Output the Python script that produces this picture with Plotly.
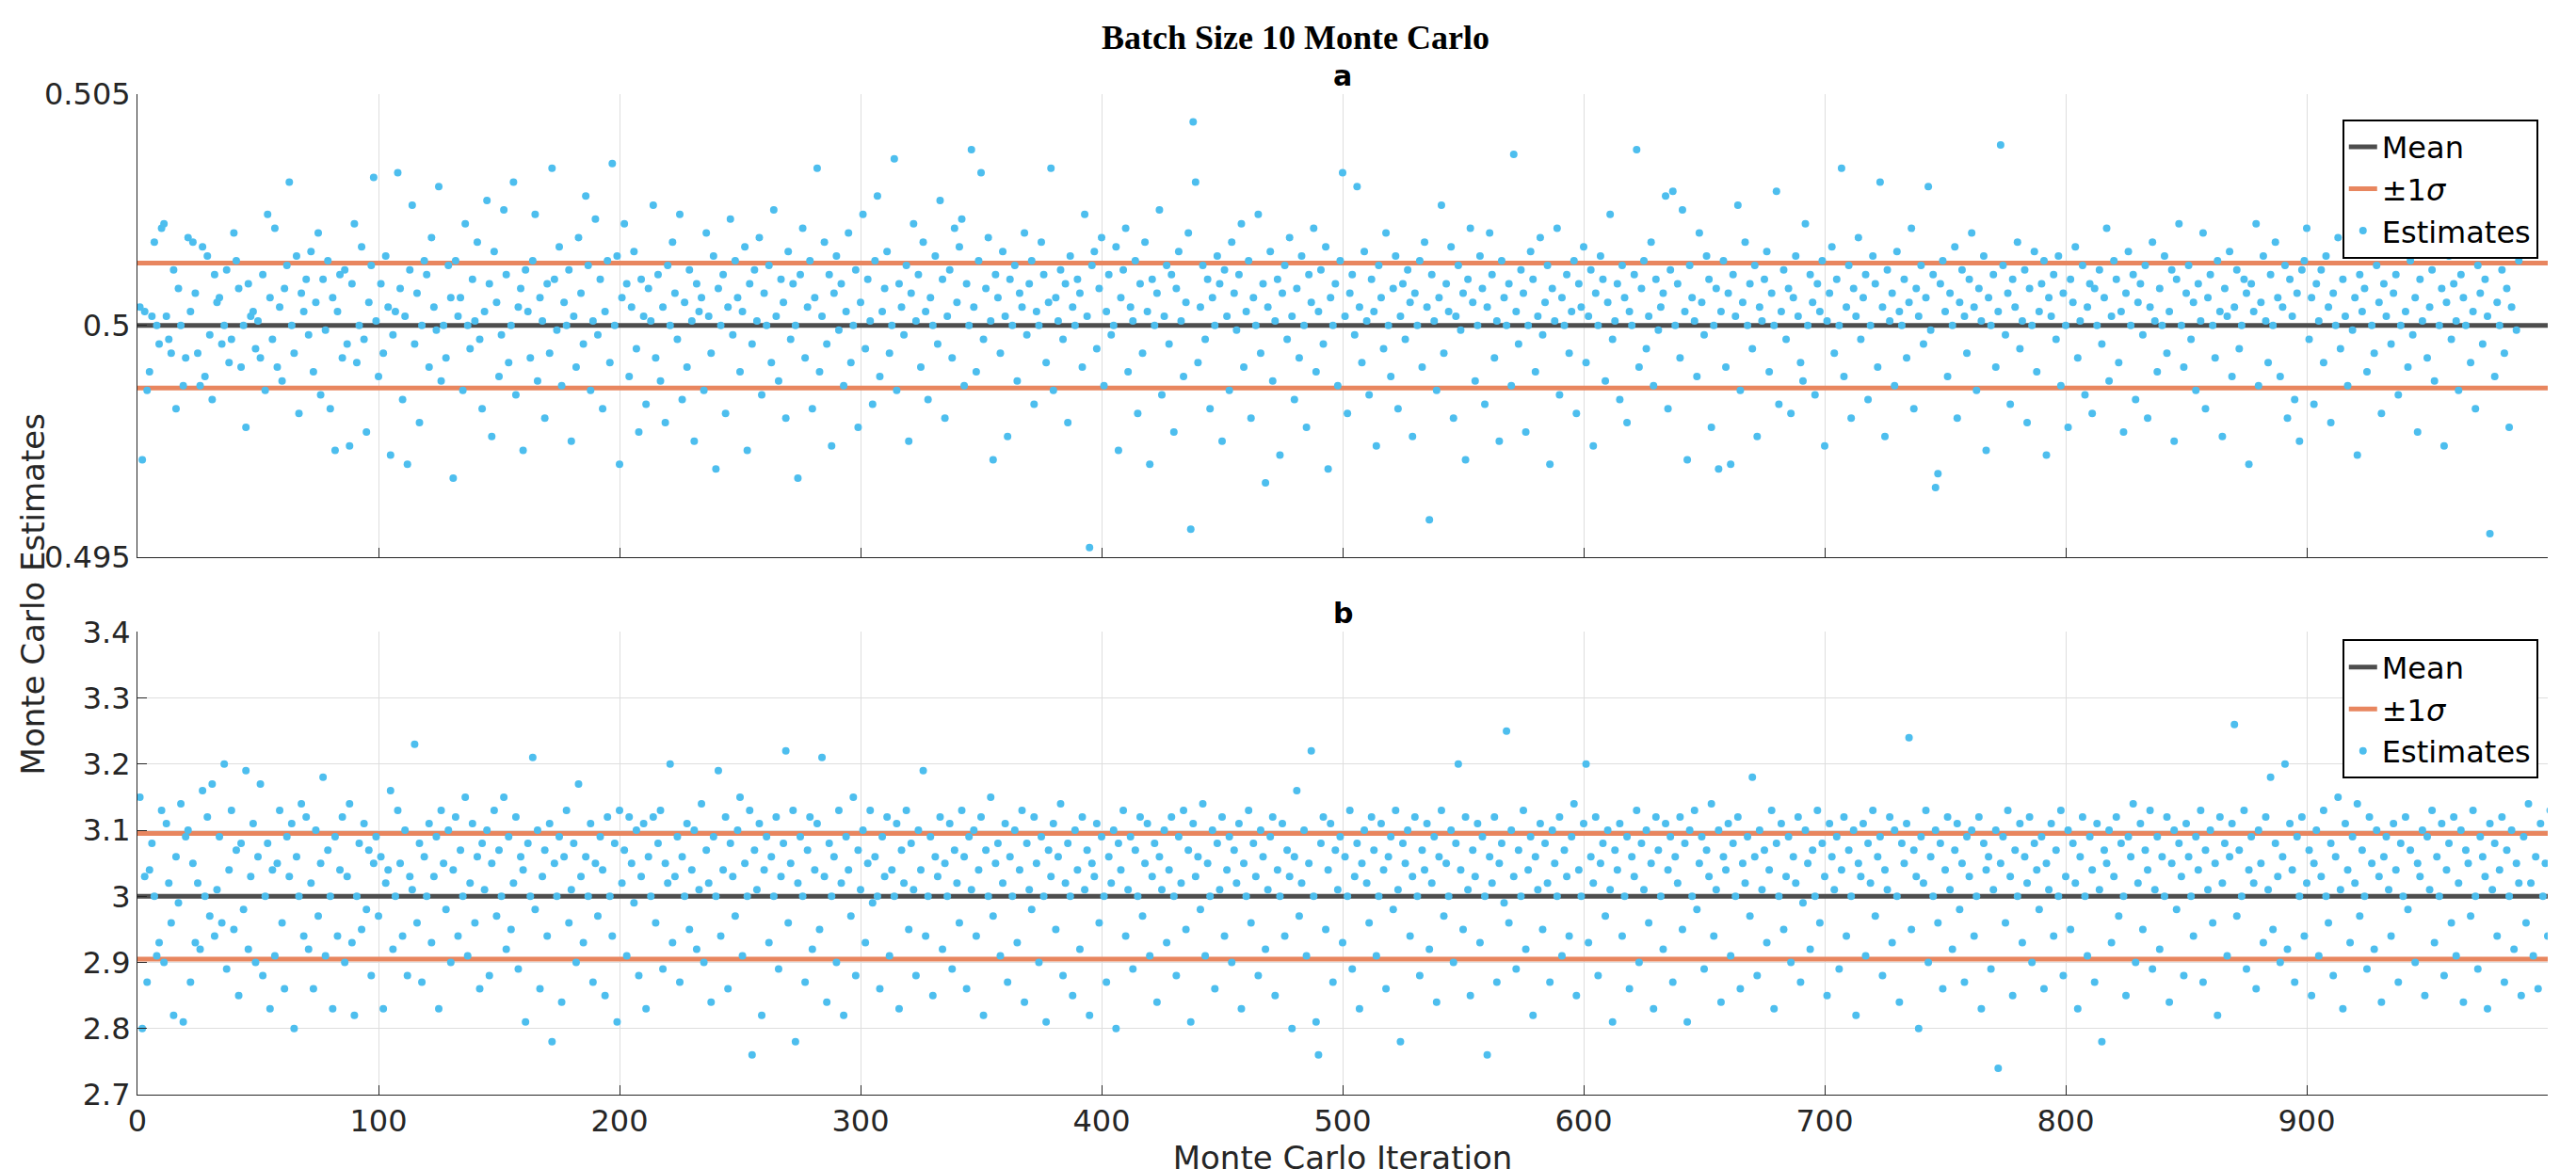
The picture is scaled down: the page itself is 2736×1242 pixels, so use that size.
import plotly.graph_objects as go
from plotly.subplots import make_subplots

# estimates, stored as offsets from the mean
# panel a: units of 1e-4 around 0.5, panel b: units of 0.01 around 3
mean_a = 0.5
sigma_a = 0.00135
mean_b = 3.0
sigma_b = 0.095

dev_a = [
    4, -29, 3, -14, -10, 2, 18, 0, -4, 21, 22, 2, -3, -6, 12, -18, 8, 0, -13, -7, 19, 3, 18, 7, -6, -13, 17, -11, 15, -2,
    -16, 11, 5, 6, -4, 0, 12, -8, -3, 20, 14, 8, -9, 0, -22, 9, 2, 3, -5, 1, -7, 11, -14, 24, 6, -3, 21, -9, 4, -12,
    8, 13, 31, 0, -6, 15, -19, 7, 3, 10, -2, 16, -10, 5, 20, -15, 10, -1, 14, -18, 6, -27, 3, 11, -7, 12, -4, -26, 9, 22,
    -8, 0, 17, -3, -23, 5, 13, 32, 1, -11, 9, -6, 15, 4, -28, -2, 3, 33, 8, -16, 2, -30, 12, 26, -4, 7, -21, 0, 14, 11,
    -9, 19, 4, -1, 30, -12, 0, -7, 13, 6, -33, 14, 2, 6, -14, 22, 0, -5, 10, 1, 18, -3, -18, 3, 27, 9, -24, 16, 5, -11,
    -2, 25, 11, -8, 0, 31, -15, 4, 8, -27, 12, 3, -7, 14, 24, -12, 6, 1, -20, 9, -6, 34, 10, -1, 17, -13, 5, 0, 12, -25,
    2, -9, 19, 7, -4, 28, 13, -14, 1, 23, -2, 10, -18, 3, 14, -8, 35, 0, 15, -30, 6, 22, 9, -11, 4, 16, -5, -23, 10, 2,
    -17, 8, 1, 26, -7, 11, -12, 4, -21, 13, 0, 18, 7, -3, 24, -16, 5, -9, 12, 1, -25, 9, 3, 6, -14, 20, 2, -6, 15, -31,
    8, 0, 11, -19, 4, 23, -2, 14, 6, -10, 3, 17, -27, 9, -4, 12, 1, 19, -15, 7, 0, 13, -8, 25, 2, -12, 10, 5, -20, 16,
    -3, 9, 0, -33, 11, 21, -7, 4, 14, -18, 6, 34, -10, 2, 18, -4, 11, -26, 7, 15, -1, 9, -13, 3, 20, -8, 0, 12, -22, 5,
    24, -5, 10, 1, -17, 14, 28, -11, 3, 8, 16, -6, 0, 36, -14, 9, 4, -2, 13, -25, 7, 22, 1, 11, -9, 18, 3, -16, 6, 0,
    15, -4, 27, 10, -20, 2, 12, -7, 21, 5, 17, 23, -13, 9, 0, 38, 4, -10, 14, 33, -3, 8, 19, 1, -29, 11, 6, -6, 16, 2,
    -24, 10, 0, 13, -12, 7, 4, 20, -2, 9, 14, -17, 3, 0, 18, 11, -8, 5, 34, -14, 6, 1, 12, -3, 9, -21, 15, 4, 0, 10,
    7, -9, 24, 2, -48, 13, 16, -5, 8, 19, -13, 3, 11, -2, 0, 17, -27, 6, 12, 21, -10, 4, 1, 14, -19, 9, -6, 18, 3, -30,
    10, 0, 7, 25, -15, 2, 13, -4, 11, -23, 8, 16, 1, -11, 5, 20, -44, 44, 31, -8, 4, 13, -3, 10, -18, 6, 0, 15, 9, -25,
    12, 2, -14, 18, 7, -1, 11, 22, -9, 3, 14, -20, 6, 0, 24, -6, 9, -34, 4, 16, -12, 1, 10, -28, 7, 13, -3, 19, 2, -16,
    8, -7, 15, 0, -22, 11, 5, 21, -10, 3, 12, -4, 17, -31, 6, 0, 9, -13, 14, 33, 2, -19, 7, 11, -2, 30, 4, -8, 16, 1,
    -15, 10, 3, -26, 13, 6, -5, 20, 0, -11, 8, 15, -18, 2, 9, -3, 12, 5, -24, 7, 0, 14, -9, 18, 4, -42, 11, 1, -14, 6,
    26, -6, 9, 3, 17, -20, 2, 13, -1, 7, -29, 10, 21, 5, -12, 0, 15, 8, -17, 4, 20, 11, -7, 1, -25, 14, 6, 0, 9, -13,
    37, 3, -4, 12, 7, -23, 0, 16, 10, -10, 2, 19, -2, 5, 13, -30, 8, 1, 21, -15, 6, 0, 11, -6, 3, 14, -19, 9, 4, 17,
    -8, 2, 12, -26, 7, 0, 15, 10, -12, 5, 24, -3, 1, 9, -16, 13, 6, -21, 3, 0, 11, 38, -9, 8, 14, -5, 2, 18, -13, 10,
    -1, 4, 7, 28, -18, 12, 29, 0, 9, -7, 25, 3, -29, 13, 6, 1, -11, 20, 5, -2, 15, 10, -22, 0, 8, -31, 3, 14, -9, 7,
    -30, 11, 2, 26, -14, 5, 18, 0, 9, -5, 13, -24, 4, 1, 10, 16, -10, 7, 0, 29, -17, 3, 12, -3, 8, -19, 6, 15, 2, -8,
    -12, 22, 0, 11, 5, -15, 9, 3, 14, -26, 1, 7, 17, -6, 10, 0, 34, -11, 4, 13, -20, 8, 2, 19, -3, 6, 11, -16, 0, 15,
    9, -9, 31, 4, -24, 12, 1, 7, -13, 16, 3, 0, 10, -7, 5, 21, -18, 8, 2, 13, -4, 6, 30, -1, 11, -35, -32, 9, 14, 3,
    -11, 7, 0, 17, -20, 5, 12, 2, -6, 10, 20, 4, -14, 8, 1, 15, -27, 6, 0, 11, -9, 3, 39, 13, -2, 7, -17, 10, 4, 18,
    -5, 1, 12, -21, 8, 0, 16, -10, 3, 9, 14, -28, 6, 2, 11, -3, 15, -13, 7, 0, -22, 10, 5, 17, -7, 1, 13, -15, 4, 9,
    -19, 8, 0, 12, -4, 6, 21, -12, 2, 14, 10, -8, 3, -23, 7, 16, 0, 11, -16, 5, 9, -2, 13, -20, 4, 18, 1, -10, 8, 0,
    15, -6, 3, 12, -25, 10, 22, 0, -9, 7, 13, -3, 5, -14, 9, 1, 20, -18, 6, 11, 0, -7, 14, 3, -24, 8, 2, 16, -11, 4,
    12, -5, 0, 10, 7, -30, 9, 3, 22, -13, 5, 15, 1, -8, 11, 0, 18, 6, -11, 4, 13, -20, 10, 2, -16, 7, -25, 12, 14, 21,
    -3, 6, -17, 9, 1, 12, -8, 15, 4, -21, 7, 0, 19, -5, 10, 2, -13, 22, -1, 6, -28, 11, 3, 8, -10, 16, 0, -6, 13, 5,
    -19, 9, 2, 24, -4, 7, 11, -15, 0, 18, 3, -9, 14, -2, 6, -23, 10, 1, 17, -7, 4, 12, -12, 20, 0, 8, -26, 5, 15, -3,
    9, 1, -14, 11, 6, 0, 21, -8, 3, -18, 13, 7, -4, 10, 2, -45, 16, -11, 5, 0, 12, -6, 8, -22, 4, 19, -1, 14, 22, 23,
]

dev_b = [
    15, -20, 3, -13, 4, 8, 0, -9, -7, 13, -10, 11, 2, -4, -18, 6, -1, 14, -19, 9, 10, -13, 5, -7, 2, -8, 16, 0, 12, -3,
    17, -6, 1, 9, -4, 20, -11, 4, 13, -5, 7, -15, 8, -2, 19, -8, 3, 11, -10, 6, 17, -12, 0, 8, -17, 4, -9, 5, 13, -4,
    -14, 9, 3, 11, -20, 6, 0, 14, -6, 12, -8, 2, -14, 10, -3, 5, 18, -9, 7, 0, -17, 9, -6, 4, 12, -10, 3, 14, -7, -18,
    0, 8, -5, 11, -2, 7, -12, 5, 9, -3, 6, -17, 2, 4, 16, -8, 0, 13, 5, -6, 10, -12, 3, 1, 23, -4, 8, -13, 6, 0,
    11, -7, 3, 9, -17, 13, 5, -2, 10, -10, 4, 12, -6, 7, 0, 15, -9, 2, 11, -4, 6, -14, 8, 1, 10, -12, 5, 13, -3, 7,
    0, 15, -8, 9, -5, 2, 12, -11, 6, 4, -19, 8, 0, 21, -2, 10, -14, 3, 7, -6, 11, -22, 5, 0, 9, -16, 6, 13, -4, 1,
    8, -10, 17, 3, -7, 6, 0, 11, -13, 5, -3, 9, 4, -15, 12, 0, -6, 8, -19, 13, 2, 7, -9, 12, 5, -1, 10, -12, 3, 11,
    -17, 6, 0, 12, -4, 8, 13, -11, 5, 2, 20, -7, 3, 9, -13, 6, 0, 11, -5, 4, 10, -8, 1, 14, -10, 7, 2, -16, 9, 0,
    19, -6, 4, 12, -14, 8, 3, -3, 10, 15, -9, 5, 0, 13, -24, 7, 1, 11, -18, 4, 9, -7, 6, 0, 12, -11, 3, 8, 22, -4,
    5, 13, -22, 2, 9, 0, -13, 7, 12, -8, 4, 11, -5, 21, 3, -16, 8, 0, 6, -10, 13, 2, -18, 9, 4, -3, 15, -12, 7, 1,
    10, -7, 5, 13, -1, 6, 0, -14, 9, 3, 12, -9, 4, 0, 11, -17, 7, 2, 13, -5, 8, 1, -12, 10, 4, 19, -6, 0, 9, -15,
    6, 3, 12, -8, 5, 0, 11, -11, 7, 2, -4, 13, 6, -14, 9, 1, 10, -6, 4, 12, -18, 7, 0, 15, -3, 5, 8, -9, 2, 11,
    -13, 6, 0, 10, -7, 4, 13, -16, 8, 1, -2, 12, 5, -10, 9, 0, -19, 7, 3, 11, -5, 6, 14, -12, 2, 8, 0, -15, 10, 4,
    -8, 12, 1, 7, -18, 5, 3, 11, -4, 9, 0, -13, 6, 2, 10, -20, 8, 4, 13, -6, 1, 9, -11, 7, 0, 12, -3, 5, 11, -9,
    3, 8, -16, 6, 1, 10, -7, 4, 12, 0, -12, 9, 2, 13, -5, 7, -19, 11, 3, 6, -2, 14, -9, 5, 0, 10, -14, 8, 1, 12,
    -6, 4, 9, -10, 7, 2, 11, -17, 5, 0, 13, -4, 8, 3, -12, 10, 6, -8, 1, 9, 12, -15, 4, 0, 11, -6, 7, 3, -20, 6,
    16, -3, 2, 10, -9, 5, 22, 0, -19, -24, 8, 12, -5, 4, 11, -13, 7, 1, 9, -7, 6, 0, 13, -11, 3, 8, -17, 5, 10, 2,
    -4, 12, 7, -9, 0, 11, 4, -14, 6, 9, -2, 13, 1, -22, 8, 5, 10, -6, 3, 12, 0, -12, 7, 4, 11, -8, 2, 9, -16, 6,
    13, -3, 5, 0, 10, -10, 8, 20, 4, -5, 12, 1, -15, 7, 3, 11, -7, 9, 0, -24, 6, 2, 12, -13, 5, 8, -1, 25, -4, 10,
    3, -11, 7, 0, 13, -8, 4, 9, -18, 6, 1, 11, -5, 8, 2, -13, 10, 5, 0, 12, -9, 7, 3, -6, 9, 14, -15, 4, 0, 11,
    20, -7, 6, 2, 12, -12, 5, 8, -3, 10, 1, -19, 7, 4, 11, -6, 0, 9, -14, 6, 3, 13, -10, 8, 1, 10, -4, 5, -17, 12,
    7, 0, -8, 11, 4, 9, -13, 6, 2, 12, -5, 8, -19, 10, 0, 13, -2, 5, 9, -11, 7, 3, 14, -6, 1, 10, -16, 6, 4, 11,
    -9, 8, 0, 12, -14, 5, 2, 9, -3, 18, 6, -12, 10, 1, 7, -7, 4, 13, -17, 8, 0, 11, -5, 3, 9, -10, 6, 2, 12, -13,
    -1, 10, 5, -8, 7, 0, 13, -4, 8, 3, -15, 11, 6, 1, 9, -11, 4, 12, -6, 7, 0, 10, -18, 5, 3, 11, -9, 8, 2, 13,
    -3, 6, 9, -12, 4, 1, 12, -7, 10, 0, -16, 8, 5, 11, 24, -5, 7, 3, -20, 9, 2, 13, -10, 6, 0, 10, -4, 8, -14, 4,
    12, 1, -8, 7, 11, -2, 5, -13, 9, 3, 10, -6, 0, 12, -17, 8, 4, 6, -11, 1, 10, -26, 5, 9, -4, 13, 3, -15, 7, 0,
    11, -7, 6, 2, 12, -10, 8, 4, -2, 9, -14, 5, 1, 11, -6, 7, 0, 13, -12, 3, 10, -5, 8, 2, -17, 6, 12, 0, -9, 9,
    4, -13, 11, 1, -22, 7, 5, 10, -7, 3, 12, -3, 8, 0, -15, 9, 6, 14, -10, 2, 11, -5, 7, 4, 13, -11, 1, 9, -8, 6,
    0, 12, -16, 5, 10, -2, 8, 3, -12, 11, 6, 0, -6, 9, 4, 13, -13, 7, 1, 10, -4, 5, -18, 12, 2, 8, -9, 6, 11, 26,
    -3, 7, 0, 13, -11, 4, 9, 2, -14, 10, 5, -7, 12, 1, 18, -5, 8, 3, -10, 6, 20, -8, 11, 4, -13, 9, 0, 12, -6, 2,
    7, -15, 5, 10, -9, 3, 13, 0, -4, 8, -12, 6, 15, 1, -17, 11, 4, -7, 9, 2, 14, -3, 7, 0, -11, 12, 5, -8, 10, 3,
    -16, 6, 9, 1, -6, 11, 4, -13, 8, 0, 12, -2, 7, 19, -10, 5, 3, 10, -15, 9, 1, 13, -7, 6, 0, 11, -12, 4, 8, -4,
    12, -9, 2, 10, -16, 7, 5, -3, 13, 0, -11, 9, 6, 3, -17, 11, 1, 8, -6, 4, 12, -13, 7, 0, 10, -8, 5, 2, -15, 9,
    -4, 14, 2, -9, 6, -14, 11, 0, 5, -6, 13, 8, -12, 3, 17, -1, 7, -8, 10, 1, 9, -13, 4, 12, -5, 6, 40, -3, 11, 2,
    13, -4, 6, 1, -10, 11, 3, 8, -14, 7, 0, 12, -7, 5, 9, -2, 20, 4, -12, 10, 6, 0, -9, 13, 2, 7, -16, 5, 11, -5,
    -7, 10, 3, -11, 8, 1, -20, 15, 5, -3, 9, 0, 18, 17, -8, 4, 12, -2, 9, 3, -17, 6, 14, -6, 1, 10, -13, 5, 8, 0,
    2, -9, 12, 5, -15, 8, 0, 11, -4, 7, 3, -12, 9, 1, 13, -6, 4, -18, 10, 2, 6, -8, 15, -1, 11, 3, -10, 8, 0, 9,
]

iterations = list(range(1, len(dev_a) + 1))
iterations_b = list(range(1, len(dev_b) + 1))
est_a = [mean_a + d * 1e-4 for d in dev_a]
est_b = [mean_b + d * 0.01 for d in dev_b]

c_mean = "#4d4d4d"
c_sig = "#e8865f"
c_est = "#4dbeee"

fig = make_subplots(rows=2, cols=1, vertical_spacing=0.075, subplot_titles=("<b>a</b>", "<b>b</b>"))

panels = [(iterations, est_a, mean_a, sigma_a, 1), (iterations_b, est_b, mean_b, sigma_b, 2)]
for its, est, m, s, r in panels:
    lg = "legend" if r == 1 else "legend2"
    fig.add_trace(go.Scatter(x=[0, 1000], y=[m, m], mode="lines", line=dict(color=c_mean, width=5),
                             name="Mean", legend=lg), row=r, col=1)
    fig.add_trace(go.Scatter(x=[0, 1000], y=[m + s, m + s], mode="lines", line=dict(color=c_sig, width=5),
                             name="±1<i>σ</i>", legend=lg), row=r, col=1)
    fig.add_trace(go.Scatter(x=[0, 1000], y=[m - s, m - s], mode="lines", line=dict(color=c_sig, width=5),
                             showlegend=False), row=r, col=1)
    fig.add_trace(go.Scatter(x=its, y=est, mode="markers", marker=dict(color=c_est, size=8),
                             name="Estimates", legend=lg), row=r, col=1)

axis_style = dict(showgrid=True, gridcolor="#dedede", showline=True, linecolor="#262626", mirror=False,
                  ticks="inside", ticklen=10, tickcolor="#262626", tickfont=dict(size=32, color="#262626"),
                  zeroline=False)
fig.update_xaxes(range=[0, 1000], dtick=100, **axis_style)
fig.update_xaxes(showticklabels=False, row=1, col=1)
fig.update_xaxes(title=dict(text="Monte Carlo Iteration", font=dict(size=34, color="#262626"), standoff=4), row=2, col=1)
fig.update_yaxes(**axis_style)
fig.update_yaxes(range=[0.495, 0.505], tickvals=[0.495, 0.5, 0.505], ticktext=["0.495", "0.5", "0.505"], row=1, col=1)
fig.update_yaxes(range=[2.7, 3.4], dtick=0.1, tickformat="~g", row=2, col=1)

for a in fig.layout.annotations:
    a.font = dict(size=30, color="black")

fig.add_annotation(text="Monte Carlo Estimates", x=-0.052, y=0.5, xref="paper", yref="paper", textangle=-90,
                   showarrow=False, font=dict(size=34, color="#262626"))

leg = dict(x=0.996, xanchor="right", bgcolor="white", bordercolor="black", borderwidth=2,
           font=dict(size=32, color="black"), tracegroupgap=0)
fig.update_layout(
    width=2736, height=1242,
    plot_bgcolor="white", paper_bgcolor="white",
    margin=dict(l=138, r=38, t=92, b=52),
    font=dict(family="DejaVu Sans"),
    title=dict(text="<b>Batch Size 10 Monte Carlo</b>", x=0.5, xanchor="center", y=0.985,
               font=dict(family="Liberation Serif", size=36, color="black")),
    legend=dict(y=0.975, yanchor="top", **leg),
    legend2=dict(y=0.455, yanchor="top", **leg),
)

fig.write_html("out.html")
